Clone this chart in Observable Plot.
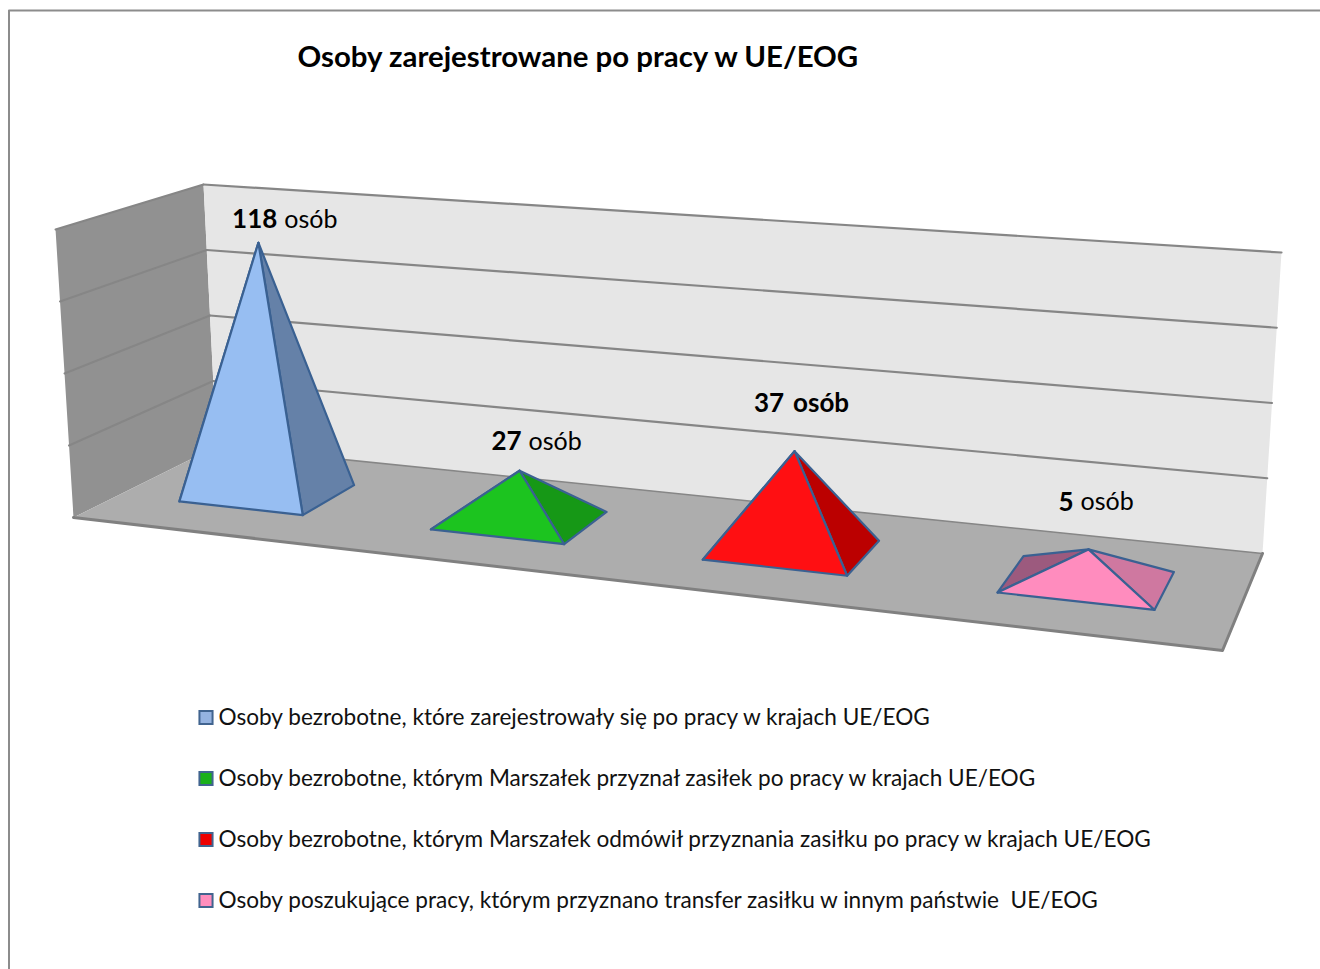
<!DOCTYPE html>
<html lang="pl">
<head>
<meta charset="utf-8">
<script src="https://cdn.jsdelivr.net/npm/d3@7"></script>
<script src="https://cdn.jsdelivr.net/npm/@observablehq/plot@0.6"></script>
<style>
html,body{margin:0;padding:0;background:#fff}
svg{display:block}
</style>
</head>
<body>
<div id="chart"></div>
<script>
// ---- chart content ----
const chartTitle = "Osoby zarejestrowane po pracy w UE/EOG";
const seriesLabels = [
  "Osoby bezrobotne, które zarejestrowały się po pracy w krajach UE/EOG",
  "Osoby bezrobotne, którym Marszałek przyznał zasiłek po pracy w krajach UE/EOG",
  "Osoby bezrobotne, którym Marszałek odmówił przyznania zasiłku po pracy w krajach UE/EOG",
  "Osoby poszukujące pracy, którym przyznano transfer zasiłku w innym państwie  UE/EOG"
];
const personCounts = [118, 27, 37, 5];
// Drawn apex height of each pyramid, in wall gridline intervals.
const apexHeights = [3.59, 0.69, 1.32, 0.42];
const gridIntervals = 4;

// ---- styling ----
const frontColors = ["#97bef2", "#1cc41f", "#ff0f12", "#ff8cbe"];
const rightColors = ["#6581a8", "#169816", "#bb0000", "#cf78a0"];
const leftColors  = ["#5a7396", "#127c12", "#990000", "#9c5a7e"];
const swatchColors = ["#95b3e0", "#1ab01a", "#ee0000", "#ff8ebd"];
const edgeColor = "#3a6192";
const boldLabel = [false, false, true, false];
const labelDx = [28, 17, 8, 10];
const labelDy = [-23, -29, -48, -47];
const splitDx = [-9, -15, -18.5, -25];
const font = "Lato, Carlito, Calibri, sans-serif";

// ---- 3D scene: floor and ceiling planes of the chart box, as seen by the camera ----
// order: front-left, front-right, back-right, back-left
const floorPlane = [[73, 517], [1222, 650], [1262, 553], [216, 446]];
const ceilingPlane = [[55, 229], [1242, 313], [1281, 252], [203, 184]];

function homography([[x0, y0], [x1, y1], [x2, y2], [x3, y3]]) {
  const dx1 = x1 - x2, dx2 = x3 - x2, sx = x0 - x1 + x2 - x3;
  const dy1 = y1 - y2, dy2 = y3 - y2, sy = y0 - y1 + y2 - y3;
  const den = dx1 * dy2 - dx2 * dy1;
  const g = (sx * dy2 - dx2 * sy) / den;
  const h = (dx1 * sy - sx * dy1) / den;
  const a = x1 - x0 + g * x1, b = x3 - x0 + h * x3;
  const d = y1 - y0 + g * y1, e = y3 - y0 + h * y3;
  return (u, v) => {
    const w = 1 + g * u + h * v;
    return [(a * u + b * v + x0) / w, (d * u + e * v + y0) / w];
  };
}
const onFloor = homography(floorPlane), onCeiling = homography(ceilingPlane);
// u: along the categories, v: depth, level: height in grid intervals
function project(u, v, level = 0) {
  const t = level / gridIntervals;
  const [fx, fy] = onFloor(u, v), [cx, cy] = onCeiling(u, v);
  return {x: fx + (cx - fx) * t, y: fy + (cy - fy) * t};
}
const poly = (pts) => [...pts, pts[0]];
const face = (pts, fill, stroke, strokeWidth = 2.2) =>
  Plot.line(poly(pts), {x: "x", y: "y", fill, stroke, strokeWidth, strokeLinejoin: "round"});
const edge = (pts, strokeWidth, stroke = "#868686") =>
  Plot.line(pts, {x: "x", y: "y", stroke, strokeWidth});

// ---- marks ----
const levels = d3.range(1, gridIntervals + 1);
const scene = [
  // chart frame
  Plot.line([{x: 8.5, y: 969}, {x: 8.5, y: 10}, {x: 1320, y: 10}], {x: "x", y: "y", stroke: "#8c8c8c", strokeWidth: 2}),
  // walls and floor
  face([project(0,0), project(0,1), project(0,1,gridIntervals), project(0,0,gridIntervals)], "#919191", "none"),
  face([project(0,1), project(1,1), project(1,1,gridIntervals), project(0,1,gridIntervals)], "#e6e6e6", "none"),
  face([project(0,0), project(1,0), project(1,1), project(0,1)], "#adadad", "none"),
  // gridlines on the walls
  ...levels.flatMap((l) => [
    edge([project(0,0,l), project(0,1,l)], 2),
    edge([project(0,1,l), project(1,1,l)], 2.2)
  ]),
  edge([project(0,1), project(1,1)], 1.6),
  // floor slab edge
  edge([project(0,0), project(1,0), project(1,1)], 3, "#808080")
];

const pyramids = personCounts.flatMap((_, i) => {
  const uc = (i + 0.5) / personCounts.length, hw = 0.5 / personCounts.length / 2;
  const fl = project(uc - hw, 0.3), fr = project(uc + hw, 0.3);
  const br = project(uc + hw, 0.7), bl = project(uc - hw, 0.7);
  const apex = project(uc, 0.5, apexHeights[i]);
  return [
    face([fl, bl, apex], leftColors[i], edgeColor),
    face([fr, br, apex], rightColors[i], edgeColor),
    face([fl, fr, apex], frontColors[i], edgeColor)
  ];
});

const labels = personCounts.map((count, i) => {
  const uc = (i + 0.5) / personCounts.length;
  const apex = project(uc, 0.5, apexHeights[i]);
  return {count, i, x: apex.x + labelDx[i] + splitDx[i], y: apex.y + labelDy[i]};
});
const labelOpts = {x: "x", y: "y", fontFamily: font, fontSize: 25, lineAnchor: "middle", fill: "#000"};
const labelMarks = [
  Plot.text(labels, {...labelOpts, text: (d) => String(d.count), textAnchor: "end", fontWeight: 700, fontSize: 26}),
  Plot.text(labels.filter((d) => !boldLabel[d.i]), {...labelOpts, text: () => "osób", dx: 7, textAnchor: "start"}),
  Plot.text(labels.filter((d) => boldLabel[d.i]), {...labelOpts, text: () => "osób", dx: 9, textAnchor: "start", fontWeight: 700, fontSize: 26})
];

const legendRows = seriesLabels.map((label, i) => ({label, i, y: 717 + 61 * i}));
const legendMarks = [
  Plot.dot(legendRows, {x: () => 205.5, y: "y", symbol: "square", r: 7.4, fill: (d) => swatchColors[d.i], stroke: "#41648f", strokeWidth: 2}),
  Plot.text(legendRows, {x: () => 218, y: "y", text: "label", textAnchor: "start", lineAnchor: "middle", fontFamily: font, fontSize: 22.6, fill: "#111"})
];

const titleMark = Plot.text([chartTitle], {x: () => 297, y: () => 57, text: (d) => d, textAnchor: "start", lineAnchor: "middle", fontFamily: font, fontSize: 29.4, fontWeight: 700, fill: "#000"});

const chart = Plot.plot({
  width: 1320, height: 969, margin: 0,
  style: {background: "#fff", whiteSpace: "pre", maxWidth: "none"},
  x: {type: "linear", domain: [0, 1320], range: [0, 1320], axis: null},
  y: {type: "linear", domain: [0, 969], range: [0, 969], axis: null},
  color: {type: "identity"},
  marks: [...scene, ...pyramids, ...labelMarks, ...legendMarks, titleMark]
});
document.getElementById("chart").append(chart);
</script>
</body>
</html>
